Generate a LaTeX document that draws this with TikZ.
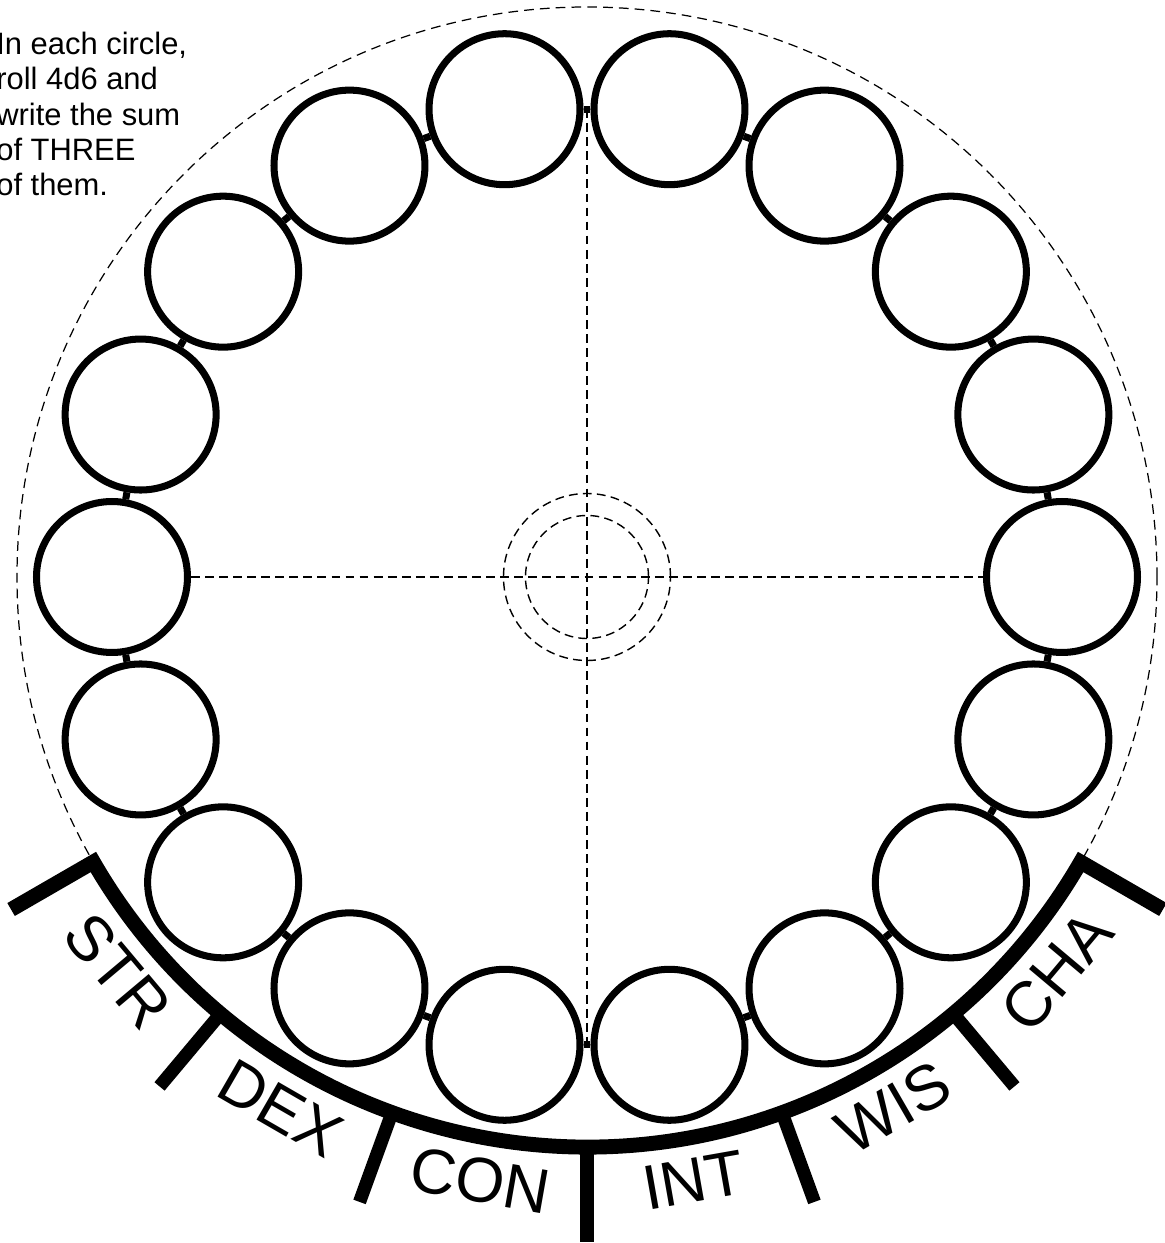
\documentclass[tikz,border=0pt]{standalone}
\usepackage{fontspec}
\setmainfont{Liberation Sans}
\usepackage{tikz}
\usetikzlibrary{calc,positioning}

\tikzset{
  slot/.style={circle,draw,line width=4pt,minimum size=3.02cm,inner sep=0pt},
  link/.style={line width=4pt},
  guide/.style={line width=0.8pt,dash pattern=on 5pt off 3pt},
  rim/.style={line width=0.7pt,dash pattern=on 5.5pt off 3.5pt},
  statbar/.style={line width=8.5pt,miter limit=10},
  tickmark/.style={line width=7.5pt},
  statlabel/.style={font=\fontsize{36}{40}\selectfont,inner sep=0pt}
}

\begin{document}
\begin{tikzpicture}[x=0.02cm,y=0.02cm]
  \useasboundingbox (-587,-666) rectangle (577,577);

  % outer dashed rim and centre marks
  \draw[rim] (0,0) circle[radius=570];
  \draw[guide] (0,0) circle[radius=61.5];
  \draw[guide] (0,0) circle[radius=83.5];

  % ring of score circles
  \foreach \i in {0,...,17}
    \node[slot] (c\i) at (20*\i:475) {};
  \foreach \i in {0,...,17}{
    \pgfmathtruncatemacro{\j}{mod(\i+1,18)}
    \draw[link] (c\i) -- (c\j);
  }

  \coordinate (top) at ($(c4)!0.5!(c5)$);
  \coordinate (bottom) at ($(c13)!0.5!(c14)$);
  \draw[guide] (c9.east) -- (c0.west);
  \draw[guide] (top) -- (bottom);

  % ability bar
  \draw[statbar] (-150:665) -- (-150:570) arc[start angle=-150,end angle=-30,radius=570] -- (-30:665);
  \foreach \a in {-130,-110,-90,-70,-50}
    \draw[tickmark] (\a:570) -- (\a:665);
  \foreach \name [count=\k] in {STR,DEX,CON,INT,WIS,CHA}{
    \pgfmathsetmacro{\a}{-160+20*\k}
    \node[statlabel,rotate=\a+90] (s\k) at (\a:613) {\name};
  }

  \node[anchor=north west,align=left,inner sep=0pt,
        font=\fontsize{17.6}{20}\selectfont] (note) at (-591,545)
    {In each circle,\\roll 4d6 and\\write the sum\\of THREE\\of them.};
\end{tikzpicture}
\end{document}
